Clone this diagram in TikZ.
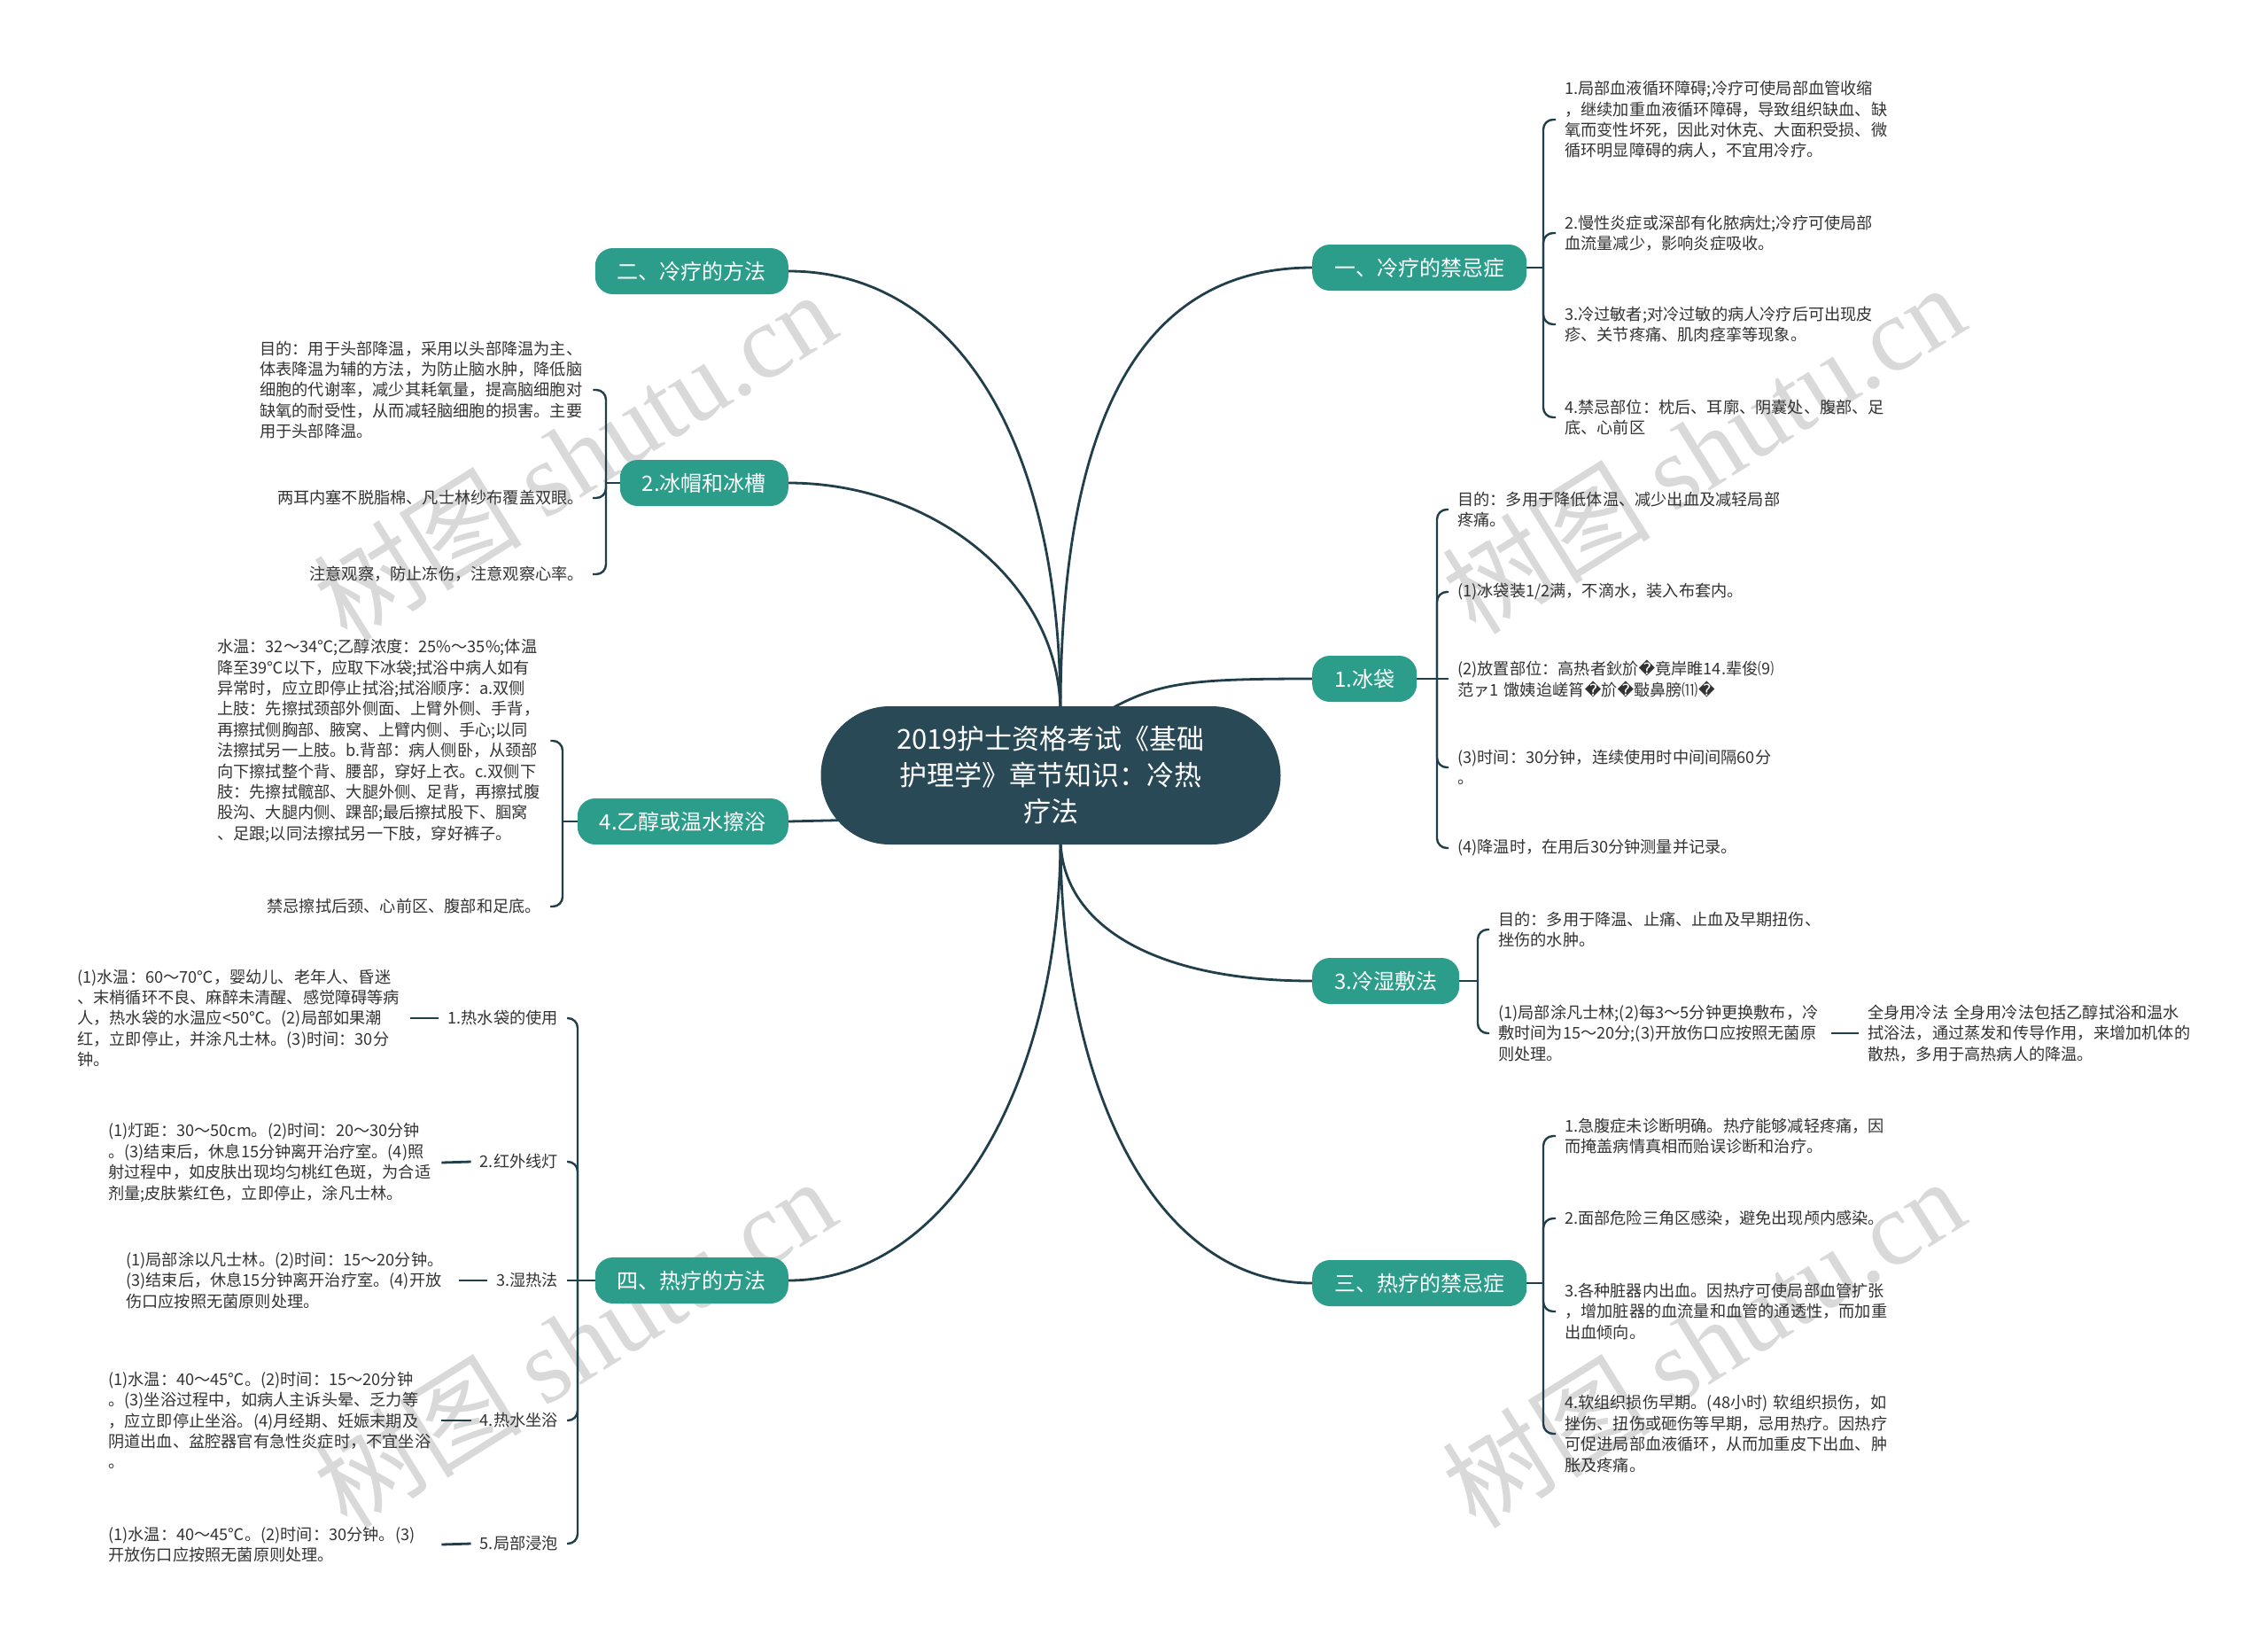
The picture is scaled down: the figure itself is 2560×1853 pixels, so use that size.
\documentclass[tikz,border=0pt]{standalone}
\usepackage{fontspec}
\setmainfont{Noto Sans CJK SC}
\newfontfamily\djv{DejaVu Sans}
\newfontfamily\wmserif{Liberation Serif}
\pgfdeclarelayer{bg}
\pgfdeclarelayer{edges}
\pgfsetlayers{bg,edges,main}
\definecolor{linec}{HTML}{213F4B}
\definecolor{rootc}{HTML}{284955}
\definecolor{tealc}{HTML}{2B9D8A}
\definecolor{txtc}{HTML}{333333}
\definecolor{wmc}{HTML}{D9D9D9}
\newcommand\rpl{{\djv\symbol{"FFFD}}}
\begin{document}
\begin{tikzpicture}[x=1pt,y=-1pt,
  rootbox/.style={fill=rootc, text=white, rounded corners=78pt, minimum width=519pt, minimum height=156pt, font=\fontsize{31}{41}\selectfont, align=center, inner sep=0pt},
  lvlbox/.style={fill=tealc, text=white, rounded corners=20pt, minimum height=52pt, font=\fontsize{24}{28}\selectfont, inner xsep=25pt, inner ysep=0pt},
  txt/.style={text=txtc, font=\fontsize{18.2}{23.4}\selectfont, align=left, inner xsep=10pt, inner ysep=2pt},
  wide/.style={txt, text width=366pt},
  link/.style={draw=linec, line width=2.8pt},
  brk/.style={draw=linec, line width=2.4pt, rounded corners=11pt},
  wmark/.style={text=wmc, rotate=32, font=\fontsize{118}{118}\selectfont}
]
\useasboundingbox (0,0) rectangle (2560,1853);
\begin{pgfonlayer}{bg}
\fill[white] (0,0) rectangle (2560,1853);
\node[wmark] (w1) at (648,514) {树图 {\wmserif shutu.cn}};
\node[wmark] (w2) at (1922,506) {树图 {\wmserif shutu.cn}};
\node[wmark] (w3) at (648,1515) {树图 {\wmserif shutu.cn}};
\node[wmark] (w4) at (1922,1515) {树图 {\wmserif shutu.cn}};
\end{pgfonlayer}

% root and main branches
\node[rootbox] (r) at (1186,875) {2019护士资格考试《基础\\护理学》章节知识：冷热\\疗法};
\node[lvlbox, anchor=east] (m2) at (890,306) {二、冷疗的方法};
\node[lvlbox, anchor=west] (m1) at (1481,302) {一、冷疗的禁忌症};
\node[lvlbox, anchor=east] (m4) at (890,545) {2.冰帽和冰槽};
\node[lvlbox, anchor=west] (m3) at (1481,766) {1.冰袋};
\node[lvlbox, anchor=east] (m6) at (890,927) {4.乙醇或温水擦浴};
\node[lvlbox, anchor=west] (m5) at (1481,1107) {3.冷湿敷法};
\node[lvlbox, anchor=east] (m8) at (890,1445) {四、热疗的方法};
\node[lvlbox, anchor=west] (m7) at (1481,1448) {三、热疗的禁忌症};

\coordinate (T) at (1197,805);
\coordinate (Tb) at (1245,805);
\coordinate (B) at (1197,945);
\coordinate (Lc) at (975,925);

% 一、冷疗的禁忌症
\node[wide, anchor=west] (c11) at (1756,135) {1.局部血液循环障碍;冷疗可使局部血管收缩\\，继续加重血液循环障碍，导致组织缺血、缺\\氧而变性坏死，因此对休克、大面积受损、微\\循环明显障碍的病人，不宜用冷疗。};
\node[wide, anchor=west] (c12) at (1756,263) {2.慢性炎症或深部有化脓病灶;冷疗可使局部\\血流量减少，影响炎症吸收。};
\node[wide, anchor=west] (c13) at (1756,366) {3.冷过敏者;对冷过敏的病人冷疗后可出现皮\\疹、关节疼痛、肌肉痉挛等现象。};
\node[wide, anchor=west] (c14) at (1756,471) {4.禁忌部位：枕后、耳廓、阴囊处、腹部、足\\底、心前区};
\coordinate (p1) at (1742,302);

% 1.冰袋
\node[wide, anchor=west] (c21) at (1635,575) {目的：多用于降低体温、减少出血及减轻局部\\疼痛。};
\node[wide, anchor=west] (c22) at (1635,668) {(1)冰袋装1/2满，不滴水，装入布套内。};
\node[wide, anchor=west] (c23) at (1635,766) {(2)放置部位：高热者鈥斺\rpl 竟岸睢14.辈俊⑼\\范ァ1 馓姨迨嵯筲\rpl 斺\rpl 斀鼻膀⑾\rpl};
\node[wide, anchor=west] (c24) at (1635,866) {(3)时间：30分钟，连续使用时中间间隔60分\\。};
\node[wide, anchor=west] (c25) at (1635,957) {(4)降温时，在用后30分钟测量并记录。};
\coordinate (p2) at (1622,766);

% 3.冷湿敷法
\node[wide, anchor=west] (c31) at (1681,1049) {目的：多用于降温、止痛、止血及早期扭伤、\\挫伤的水肿。};
\node[wide, anchor=west] (c32) at (1681,1166) {(1)局部涂凡士林;(2)每3～5分钟更换敷布，冷\\敷时间为15～20分;(3)开放伤口应按照无菌原\\则处理。};
\node[wide, anchor=west] (c33) at (2098,1166) {全身用冷法 全身用冷法包括乙醇拭浴和温水\\拭浴法，通过蒸发和传导作用，来增加机体的\\散热，多用于高热病人的降温。};
\coordinate (p3) at (1668,1107);

% 三、热疗的禁忌症
\node[wide, anchor=west] (c41) at (1756,1282) {1.急腹症未诊断明确。热疗能够减轻疼痛，因\\而掩盖病情真相而贻误诊断和治疗。};
\node[wide, anchor=west] (c42) at (1756,1375) {2.面部危险三角区感染，避免出现颅内感染。};
\node[wide, anchor=west] (c43) at (1756,1480) {3.各种脏器内出血。因热疗可使局部血管扩张\\，增加脏器的血流量和血管的通透性，而加重\\出血倾向。};
\node[wide, anchor=west] (c44) at (1756,1618) {4.软组织损伤早期。(48小时) 软组织损伤，如\\挫伤、扭伤或砸伤等早期，忌用热疗。因热疗\\可促进局部血液循环，从而加重皮下出血、肿\\胀及疼痛。};
\coordinate (p4) at (1742,1448);

% 2.冰帽和冰槽
\node[wide, anchor=west] (c51) at (283,440) {目的：用于头部降温，采用以头部降温为主、\\体表降温为辅的方法，为防止脑水肿，降低脑\\细胞的代谢率，减少其耗氧量，提高脑细胞对\\缺氧的耐受性，从而减轻脑细胞的损害。主要\\用于头部降温。};
\node[txt, anchor=east] (c52) at (669,562) {两耳内塞不脱脂棉、凡士林纱布覆盖双眼。};
\node[txt, anchor=east] (c53) at (669,648) {注意观察，防止冻伤，注意观察心率。};
\coordinate (p5) at (684,545);

% 4.乙醇或温水擦浴
\node[wide, anchor=west] (c61) at (235,836) {水温：32～34℃;乙醇浓度：25\%～35\%;体温\\降至39℃以下，应取下冰袋;拭浴中病人如有\\异常时，应立即停止拭浴;拭浴顺序：a.双侧\\上肢：先擦拭颈部外侧面、上臂外侧、手背，\\再擦拭侧胸部、腋窝、上臂内侧、手心;以同\\法擦拭另一上肢。b.背部：病人侧卧，从颈部\\向下擦拭整个背、腰部，穿好上衣。c.双侧下\\肢：先擦拭髋部、大腿外侧、足背，再擦拭腹\\股沟、大腿内侧、踝部;最后擦拭股下、腘窝\\、足跟;以同法擦拭另一下肢，穿好裤子。};
\node[txt, anchor=east] (c62) at (621,1023) {禁忌擦拭后颈、心前区、腹部和足底。};
\coordinate (p6) at (635,927);

% 四、热疗的方法
\node[txt, anchor=east] (l1) at (640,1149) {1.热水袋的使用};
\node[txt, anchor=east] (l2) at (640,1311) {2.红外线灯};
\node[txt, anchor=east] (l3) at (640,1445) {3.湿热法};
\node[txt, anchor=east] (l4) at (640,1603) {4.热水坐浴};
\node[txt, anchor=east] (l5) at (640,1742) {5.局部浸泡};
\coordinate (p7) at (652,1445);
\node[wide, anchor=west] (t1) at (77,1149) {(1)水温：60～70℃，婴幼儿、老年人、昏迷\\、末梢循环不良、麻醉未清醒、感觉障碍等病\\人，热水袋的水温应<50℃。(2)局部如果潮\\红，立即停止，并涂凡士林。(3)时间：30分\\钟。};
\node[wide, anchor=west] (t2) at (112,1312) {(1)灯距：30～50cm。(2)时间：20～30分钟\\。(3)结束后，休息15分钟离开治疗室。(4)照\\射过程中，如皮肤出现均匀桃红色斑，为合适\\剂量;皮肤紫红色，立即停止，涂凡士林。};
\node[wide, anchor=west] (t3) at (132,1445) {(1)局部涂以凡士林。(2)时间：15～20分钟。\\(3)结束后，休息15分钟离开治疗室。(4)开放\\伤口应按照无菌原则处理。};
\node[wide, anchor=west] (t4) at (112,1603) {(1)水温：40～45℃。(2)时间：15～20分钟\\。(3)坐浴过程中，如病人主诉头晕、乏力等\\，应立即停止坐浴。(4)月经期、妊娠末期及\\阴道出血、盆腔器官有急性炎症时，不宜坐浴\\。};
\node[wide, anchor=west] (t5) at (112,1743) {(1)水温：40～45℃。(2)时间：30分钟。(3)\\开放伤口应按照无菌原则处理。};

\begin{pgfonlayer}{edges}
\draw[link] (m2.east) .. controls +(188,0) and +(0,-310) .. (T);
\draw[link] (m4.east) .. controls +(163,0) and +(0,-147) .. (T);
\draw[link] (m1.west) .. controls +(-196,0) and +(0,-327) .. (T);
\draw[link] (m3.west) .. controls +(-140,0) and +(60,-35) .. (Tb);
\draw[link] (m6.east) -- (Lc);
\draw[link] (B) .. controls +(0,98) and +(-180,0) .. (m5.west);
\draw[link] (B) .. controls +(0,278) and +(-180,0) .. (m7.west);
\draw[link] (B) .. controls +(0,278) and +(180,0) .. (m8.east);

\draw[link] (m1.east) -- (p1);
\foreach \c in {c11,c12,c13,c14} \draw[brk] (p1) |- (\c.west);
\draw[link] (m3.east) -- (c23.west);
\foreach \c in {c21,c22,c24,c25} \draw[brk] (p2) |- (\c.west);
\draw[link] (m5.east) -- (p3);
\foreach \c in {c31,c32} \draw[brk] (p3) |- (\c.west);
\draw[link] (c32.east) -- (c33.west);
\draw[link] (m7.east) -- (p4);
\foreach \c in {c41,c42,c43,c44} \draw[brk] (p4) |- (\c.west);
\draw[link] (m4.west) -- (p5);
\foreach \c in {c51,c52,c53} \draw[brk] (p5) |- (\c.east);
\draw[link] (m6.west) -- (p6);
\foreach \c in {c61,c62} \draw[brk] (p6) |- (\c.east);
\draw[link] (m8.west) -- (l3.east);
\foreach \c in {l1,l2,l4,l5} \draw[brk] (p7) |- (\c.east);
\draw[link] (t1.east) -- (l1.west);
\draw[link] (t2.east) -- (l2.west);
\draw[link] (t3.east) -- (l3.west);
\draw[link] (t4.east) -- (l4.west);
\draw[link] (t5.east) -- (l5.west);
\end{pgfonlayer}
\end{tikzpicture}
\end{document}
